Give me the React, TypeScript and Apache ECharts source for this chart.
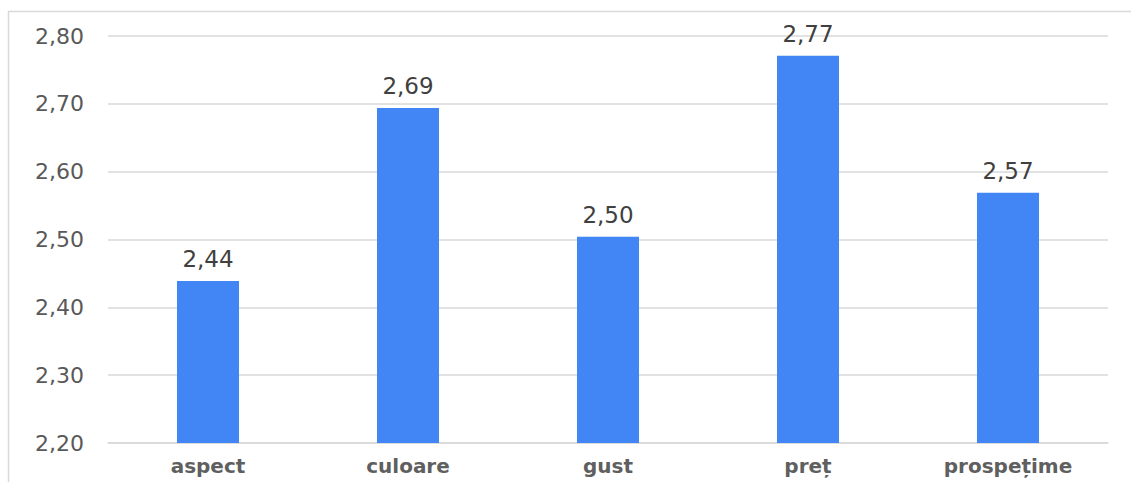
import React, { useEffect, useRef } from "react";
import * as echarts from "echarts";

const categories = ["aspect", "culoare", "gust", "preț", "prospețime"];
const values = [2.439, 2.694, 2.504, 2.771, 2.569];
const valueLabels = ["2,44", "2,69", "2,50", "2,77", "2,57"];

export default function App() {
  const ref = useRef<HTMLDivElement>(null);
  useEffect(() => {
    document.body.style.margin = "0";
    const chart = echarts.init(ref.current!, undefined, { renderer: "svg" });
    chart.setOption({
      animation: false,
      backgroundColor: "#ffffff",
      graphic: [
        {
          type: "rect",
          shape: { x: 8.5, y: 11.5, width: 1200, height: 600 },
          style: { fill: "none", stroke: "#d9d9d9", lineWidth: 1.5 },
          silent: true,
        },
      ],
      grid: { left: 108, right: 23, top: 36, bottom: 39, containLabel: false },
      xAxis: {
        type: "category",
        data: categories,
        axisTick: { show: false },
        axisLine: { show: true, lineStyle: { color: "#d9d9d9", width: 1.5 } },
        axisLabel: {
          color: "#5f5f5f",
          fontFamily: "DejaVu Sans",
          fontWeight: "bold",
          fontSize: 20,
          margin: 13,
        },
      },
      yAxis: {
        type: "value",
        min: 2.2,
        max: 2.8,
        interval: 0.1,
        axisLine: { show: false },
        axisTick: { show: false },
        splitLine: { lineStyle: { color: "#d9d9d9", width: 1.5 } },
        axisLabel: {
          color: "#595959",
          fontFamily: "DejaVu Sans",
          fontSize: 22,
          margin: 24,
          formatter: (v: number) => v.toFixed(2).replace(".", ","),
        },
      },
      series: [
        {
          type: "bar",
          data: values,
          barWidth: 62,
          itemStyle: { color: "#4285F4" },
          label: {
            show: true,
            position: "top",
            distance: 10,
            color: "#404040",
            fontFamily: "DejaVu Sans",
            fontSize: 23,
            formatter: (p: any) => valueLabels[p.dataIndex],
          },
        },
      ],
    });
    return () => chart.dispose();
  }, []);
  return <div ref={ref} style={{ width: 1131, height: 482 }} />;
}
